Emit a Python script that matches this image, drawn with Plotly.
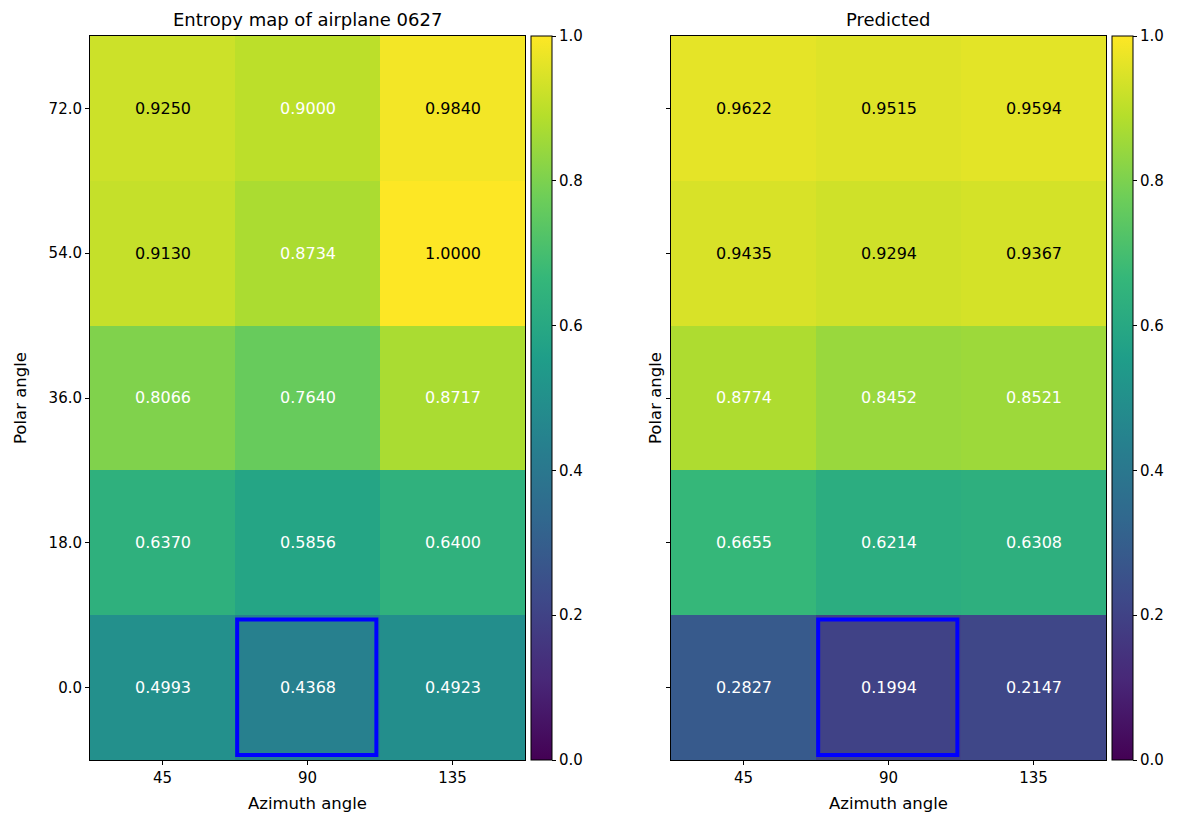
import plotly.graph_objects as go

# Grid axes
azimuth = [45, 90, 135]
polar = [0.0, 18.0, 36.0, 54.0, 72.0]

# Entropy values, rows ordered from polar 0.0 up to 72.0
entropy_true = [
    [0.4993, 0.4368, 0.4923],
    [0.6370, 0.5856, 0.6400],
    [0.8066, 0.7640, 0.8717],
    [0.9130, 0.8734, 1.0000],
    [0.9250, 0.9000, 0.9840],
]
entropy_pred = [
    [0.2827, 0.1994, 0.2147],
    [0.6655, 0.6214, 0.6308],
    [0.8774, 0.8452, 0.8521],
    [0.9435, 0.9294, 0.9367],
    [0.9622, 0.9515, 0.9594],
]
panel_titles = ["Entropy map of airplane 0627", "Predicted"]
best_view = (1, 0)  # (azimuth index, polar index) highlighted in each panel

W, H = 1179, 819
FONT = "DejaVu Sans"

def px_x(p):
    return p / W

def px_y(p):
    return 1 - p / H

fig = go.Figure()

panels = [
    dict(z=entropy_true, x0=90, x1=525, cb=531),
    dict(z=entropy_pred, x0=671, x1=1106, cb=1112),
]
top, bottom = 36, 760

cols = list(range(len(azimuth)))
rows = list(range(len(polar)))

for i, p in enumerate(panels):
    xa = "x" if i == 0 else "x2"
    ya = "y" if i == 0 else "y2"
    fig.add_trace(go.Heatmap(
        z=p["z"], x=cols, y=rows,
        colorscale="Viridis", zmin=0, zmax=1,
        xaxis=xa, yaxis=ya,
        hoverinfo="skip",
        colorbar=dict(
            x=px_x(p["cb"]), xanchor="left", xpad=0,
            y=px_y(bottom), yanchor="bottom", ypad=0,
            len=(bottom - top) / H, lenmode="fraction",
            thickness=21, thicknessmode="pixels",
            outlinewidth=1, outlinecolor="black",
            tickmode="array", tickvals=[0, 0.2, 0.4, 0.6, 0.8, 1.0],
            ticktext=["0.0", "0.2", "0.4", "0.6", "0.8", "1.0"],
            ticks="outside", ticklen=4, tickwidth=1, tickcolor="black",
            tickfont=dict(family=FONT, size=15, color="black"),
        ),
    ))
    # cell value labels
    for r in rows:
        for c in cols:
            v = p["z"][r][c]
            fig.add_annotation(
                x=c, y=r, xref=xa, yref=ya, text=f"{v:.4f}", showarrow=False,
                xanchor="center", yanchor="middle",
                font=dict(family=FONT, size=16, color="black" if v > 0.905 else "white"),
            )
    # highlighted cell
    bc, br = best_view
    fig.add_shape(
        type="rect", xref=xa, yref=ya,
        x0=bc - 0.485, x1=bc + 0.475, y0=br - 0.465, y1=br + 0.47,
        line=dict(color="blue", width=4),
    )
    axis_common = dict(showgrid=False, zeroline=False, showline=True, mirror=True,
                       linecolor="black", linewidth=1, ticks="outside", ticklen=4,
                       tickcolor="black", tickfont=dict(family=FONT, size=15, color="black"))
    xkey = "xaxis" if i == 0 else "xaxis2"
    ykey = "yaxis" if i == 0 else "yaxis2"
    fig.update_layout({
        xkey: dict(domain=[px_x(p["x0"]), px_x(p["x1"])], range=[-0.5, 2.5],
                   tickmode="array", tickvals=cols, ticktext=[str(a) for a in azimuth],
                   anchor=ya, **axis_common),
        ykey: dict(domain=[px_y(bottom), px_y(top)], range=[-0.5, 4.5],
                   tickmode="array", tickvals=rows, ticktext=[f"{a:.1f}" for a in polar],
                   showticklabels=(i == 0), anchor=xa, **axis_common),
    })
    cx = (p["x0"] + p["x1"]) / 2
    fig.add_annotation(x=px_x(cx), y=px_y(19), xref="paper", yref="paper",
                       xanchor="center", yanchor="middle",
                       text=panel_titles[i], showarrow=False,
                       font=dict(family=FONT, size=18, color="black"))
    fig.add_annotation(x=px_x(cx), y=px_y(803), xref="paper", yref="paper",
                       xanchor="center", yanchor="middle",
                       text="Azimuth angle", showarrow=False,
                       font=dict(family=FONT, size=16.5, color="black"))
    ylab_x = 20 if i == 0 else 655
    fig.add_annotation(x=px_x(ylab_x), y=px_y((top + bottom) / 2), xref="paper", yref="paper",
                       xanchor="center", yanchor="middle",
                       text="Polar angle", showarrow=False, textangle=-90,
                       font=dict(family=FONT, size=16.5, color="black"))

fig.update_layout(
    width=W, height=H, margin=dict(l=0, r=0, t=0, b=0),
    paper_bgcolor="white", plot_bgcolor="white", showlegend=False,
)

fig.write_html("out.html")
